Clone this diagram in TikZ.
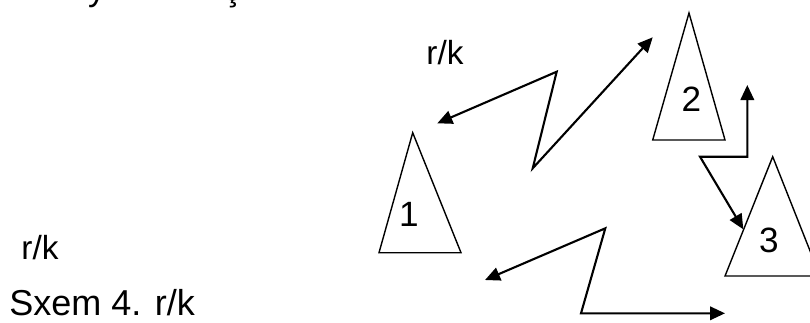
\documentclass[tikz,border=0pt]{standalone}
\usepackage{fontspec}
\setmainfont{Liberation Sans}
\usetikzlibrary{arrows.meta}

\begin{document}
\begin{tikzpicture}[x=0.02cm,y=-0.02cm,
      tri/.style={draw,line width=0.8pt},
      link/.style={line width=1.2pt,{Triangle[length=0.3cm,width=0.27cm]}-{Triangle[length=0.3cm,width=0.27cm]}},
      num/.style={inner sep=0pt,font=\fontsize{20}{24}\selectfont},
      lbl/.style={inner sep=0pt,font=\fontsize{19}{23}\selectfont}]
    \useasboundingbox (0,0) rectangle (810,322);
    \clip (0,0) rectangle (810,322);
    % line cut off above
    \node[anchor=base,inner sep=0pt,font=\fontsize{20}{24}\selectfont] (cuty) at (97,0) {y};
    \node[anchor=base,inner sep=0pt,font=\fontsize{20}{24}\selectfont] (cuts) at (233,0) {ş};
    % Triangles
    \draw[tri] (412.7,132.7) -- (461,252.7) -- (379,252.7) -- cycle;
    \draw[tri] (689,13) -- (725,140) -- (652.7,140) -- cycle;
    \draw[tri] (772.7,156.7) -- (820,276) -- (725,276) -- cycle;
    \node[num] (one)   at (409,214.5) {1};
    \node[num] (two)   at (691.5,98.8) {2};
    \node[num] (three) at (768.8,240.5) {3};
    % Labels
    \node[lbl] (rktop)  at (445,52.5) {r/k};
    \node[lbl] (rkleft) at (40,247.5) {r/k};
    \node[inner sep=0pt,font=\fontsize{20.5}{24}\selectfont,anchor=west] (caption) at (9,303) {Sxem 4. r/k};
    % Zigzag links
    \coordinate (ta) at (437.3,123.3);
    \coordinate (tb) at (556.7,71.7);
    \coordinate (tc) at (532.7,168.3);
    \coordinate (td) at (652.7,37.3);
    \draw[link] (ta) -- (tb) -- (tc) -- (td);
    \coordinate (ba) at (485,280);
    \coordinate (bb) at (605.3,228.3);
    \coordinate (bc) at (581,313.3);
    \coordinate (bd) at (725,313.3);
    \draw[link] (ba) -- (bb) -- (bc) -- (bd);
    \coordinate (ra) at (747.3,85);
    \coordinate (rb) at (747.3,156.7);
    \coordinate (rc) at (700,156.7);
    \coordinate (rd) at (743.3,229.3);
    \draw[link] (ra) -- (rb) -- (rc) -- (rd);
  \end{tikzpicture}
\end{document}
